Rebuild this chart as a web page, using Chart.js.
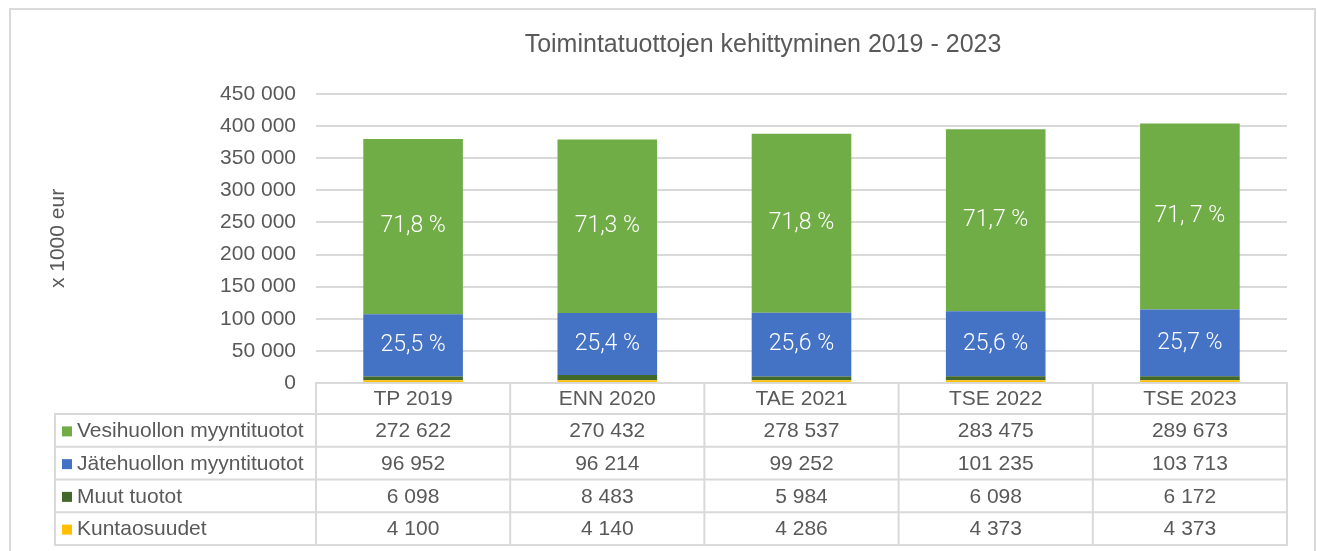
<!DOCTYPE html>
<html>
<head>
<meta charset="utf-8">
<script src="https://cdn.jsdelivr.net/npm/chart.js@4/dist/chart.umd.min.js"></script>
<style>
  html, body { margin: 0; padding: 0; background: #fff; }
  #wrap { width: 1317px; height: 551px; position: relative; }
</style>
</head>
<body>
<div id="wrap"><canvas id="myChart" width="1317" height="551"></canvas></div>
<script>
var categories = ["TP 2019", "ENN 2020", "TAE 2021", "TSE 2022", "TSE 2023"];
var vesiValues = [272622, 270432, 278537, 283475, 289673];
var jateValues = [96952, 96214, 99252, 101235, 103713];
var muutValues = [6098, 8483, 5984, 6098, 6172];
var kuntaValues = [4100, 4140, 4286, 4373, 4373];
var vesiLabels = ["71,8 %", "71,3 %", "71,8 %", "71,7 %", "71, 7 %"];
var jateLabels = ["25,5 %", "25,4 %", "25,6 %", "25,6 %", "25,7 %"];
var yTicks = [0, 50000, 100000, 150000, 200000, 250000, 300000, 350000, 400000, 450000];

var textColor = "#595959";
var lineColor = "#d9d9d9";
var font = "'Liberation Sans', Arial, sans-serif";

function fmt(v) {
  return String(v).replace(/\B(?=(\d{3})+(?!\d))/g, " ");
}

// table rows, top row of the table is drawn first in the chart
var tableRows = [
  { name: "Vesihuollon myyntituotot", color: "#70ad47", values: vesiValues },
  { name: "Jätehuollon myyntituotot", color: "#4472c4", values: jateValues },
  { name: "Muut tuotot", color: "#43682b", values: muutValues },
  { name: "Kuntaosuudet", color: "#ffc000", values: kuntaValues }
];

var extras = {
  id: "extras",
  beforeDraw: function (chart) {
    var c = chart.ctx;
    c.save();
    c.strokeStyle = lineColor;
    c.lineWidth = 2;
    c.strokeRect(10, 9, 1305, 600);
    c.restore();
  },
  afterDatasetsDraw: function (chart) {
    var c = chart.ctx;
    c.save();
    c.fillStyle = "#ffffff";
    c.font = "300 23px Roboto, sans-serif";
    c.textAlign = "center";
    c.textBaseline = "middle";
    [[3, vesiLabels], [2, jateLabels]].forEach(function (p) {
      var meta = chart.getDatasetMeta(p[0]);
      meta.data.forEach(function (bar, i) {
        c.fillText(p[1][i], bar.x, (bar.y + bar.base) / 2);
      });
    });
    c.restore();
  },
  afterDraw: function (chart) {
    var c = chart.ctx;
    var a = chart.chartArea;
    var xs = chart.scales.x;
    var colW = (a.right - a.left) / categories.length;
    var top = a.bottom;
    var headH = 31;
    var rowH = 32.75;
    var tabLeft = 55;
    c.save();
    c.strokeStyle = lineColor;
    c.lineWidth = 2;
    // header row
    c.strokeRect(a.left, top, a.right - a.left, headH);
    for (var i = 1; i < categories.length; i++) {
      c.beginPath();
      c.moveTo(a.left + i * colW, top);
      c.lineTo(a.left + i * colW, top + headH + rowH * tableRows.length);
      c.stroke();
    }
    var bodyTop = top + headH;
    c.strokeRect(tabLeft, bodyTop, a.right - tabLeft, rowH * tableRows.length);
    c.beginPath();
    c.moveTo(a.left, bodyTop);
    c.lineTo(a.left, bodyTop + rowH * tableRows.length);
    c.stroke();
    for (var r = 1; r < tableRows.length; r++) {
      c.beginPath();
      c.moveTo(tabLeft, bodyTop + r * rowH);
      c.lineTo(a.right, bodyTop + r * rowH);
      c.stroke();
    }
    c.fillStyle = textColor;
    c.font = "21px " + font;
    c.textAlign = "center";
    c.textBaseline = "middle";
    categories.forEach(function (cat, i) {
      c.fillText(cat, xs.getPixelForValue(i), top + headH / 2 + 1);
    });
    tableRows.forEach(function (row, r) {
      var cy = bodyTop + r * rowH + rowH / 2 + 1;
      c.fillStyle = row.color;
      c.fillRect(62, cy - 5, 10, 10);
      c.fillStyle = textColor;
      c.textAlign = "left";
      c.fillText(row.name, 77, cy);
      c.textAlign = "center";
      row.values.forEach(function (v, i) {
        c.fillText(fmt(v), xs.getPixelForValue(i), cy);
      });
    });
    // title
    c.font = "25px " + font;
    c.textAlign = "center";
    c.fillText("Toimintatuottojen kehittyminen 2019 - 2023", 763, 45);
    c.restore();
  }
};

var barPct = 0.513;

new Chart("myChart", {
  type: "bar",
  data: {
    labels: categories,
    datasets: [
      { label: "Kuntaosuudet", data: kuntaValues, backgroundColor: "#ffc000" },
      { label: "Muut tuotot", data: muutValues, backgroundColor: "#43682b" },
      { label: "Jätehuollon myyntituotot", data: jateValues, backgroundColor: "#4472c4" },
      { label: "Vesihuollon myyntituotot", data: vesiValues, backgroundColor: "#70ad47" }
    ]
  },
  options: {
    responsive: false,
    animation: false,
    datasets: { bar: { categoryPercentage: 1, barPercentage: barPct } },
    layout: { padding: { left: 46, right: 30, top: 94, bottom: 168 } },
    plugins: { legend: { display: false }, tooltip: { enabled: false } },
    scales: {
      x: { stacked: true, display: false },
      y: {
        stacked: true,
        min: 0,
        max: 450000,
        afterBuildTicks: function (s) {
          s.ticks = yTicks.map(function (v) { return { value: v }; });
        },
        afterFit: function (s) { s.width = 316 - 46; },
        border: { display: false },
        grid: { color: lineColor, lineWidth: 2, drawTicks: false },
        ticks: {
          padding: 20,
          color: textColor,
          font: { family: font, size: 21 },
          callback: function (v) { return fmt(v); }
        },
        title: {
          display: true,
          text: "x 1000 eur",
          color: textColor,
          font: { family: font, size: 21 },
          padding: 0
        }
      }
    }
  },
  plugins: [extras]
});
</script>
</body>
</html>
